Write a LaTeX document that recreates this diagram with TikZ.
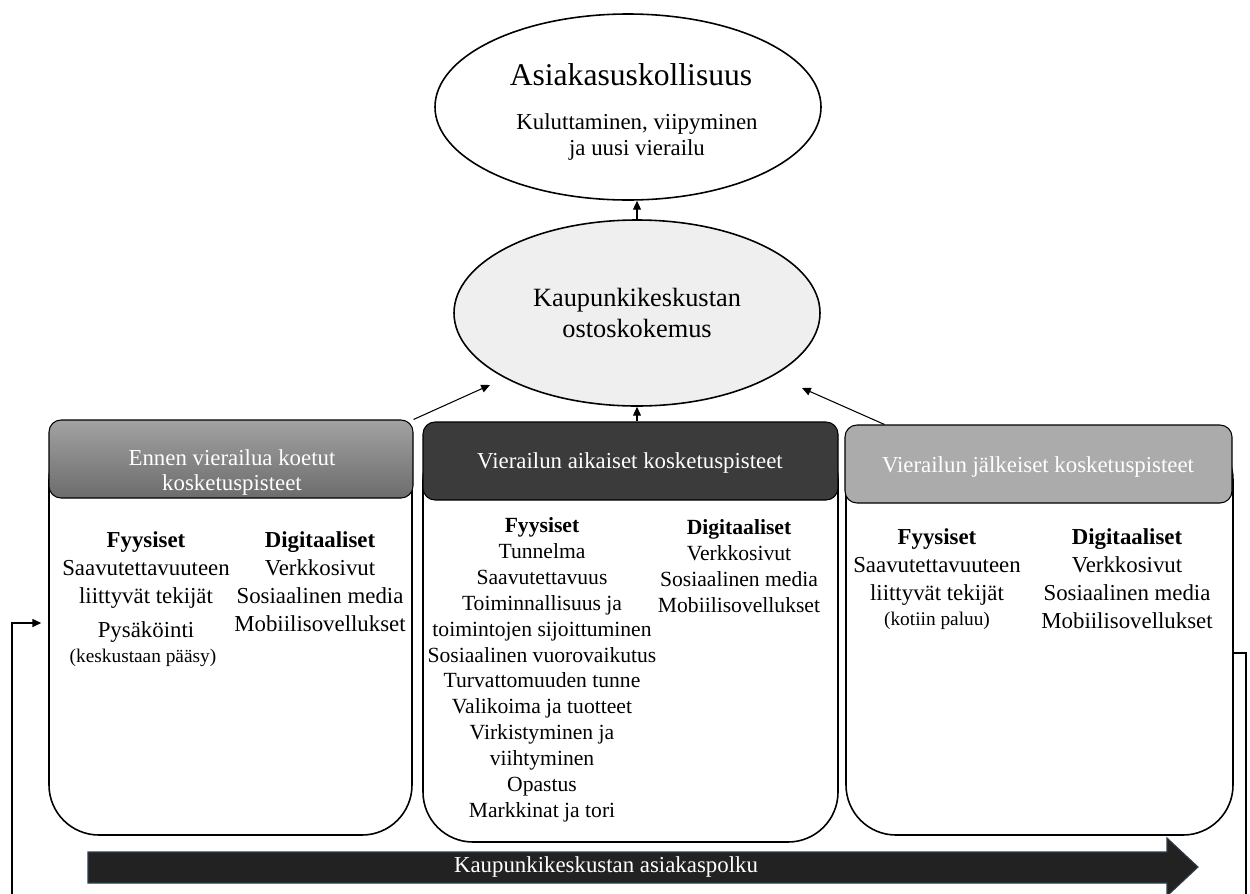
\documentclass[tikz,border=0pt]{standalone}
\usepackage{fontspec}
\setmainfont{Liberation Serif}
\usetikzlibrary{shapes.geometric,arrows.meta,calc,fit}
\newlength\pxu \setlength\pxu{0.02cm}
\definecolor{hdrtop}{HTML}{A2A2A2}
\definecolor{hdrbot}{HTML}{6C6C6C}
\definecolor{hdrdark}{HTML}{3B3B3B}
\definecolor{hdrlight}{HTML}{ABABAB}
\definecolor{ellfill}{HTML}{EFEFEF}
\definecolor{journey}{HTML}{222222}
\definecolor{journeyedge}{HTML}{2E3D4C}
\begin{document}
\begin{tikzpicture}[x=0.02cm,y=-0.02cm,
  line/.style={line width=0.8pt},
  arr/.style={line width=0.6pt,-{Triangle[length=5pt,width=4.5pt]}},
  ell/.style={ellipse,draw,line width=0.9pt,inner sep=0pt},
  body/.style={rectangle,draw,line width=0.9pt,fill=white,rounded corners=1cm,inner sep=0pt},
  hdr/.style={rectangle,draw,line width=0.6pt,rounded corners=0.24cm,inner sep=0pt},
  htxt/.style={text=white,font=\fontsize{13}{14.2}\selectfont,align=center,anchor=base,inner sep=0pt},
  tbig/.style={font=\fontsize{13}{15.8}\selectfont,align=center,anchor=base,inner sep=0pt},
  tmid/.style={font=\fontsize{12.3}{14.7}\selectfont,align=center,anchor=base,inner sep=0pt},
  tsmall/.style={font=\fontsize{11}{13}\selectfont,anchor=base,inner sep=0pt}]
\useasboundingbox (0,0) rectangle (1250,893);
\clip (0,0) rectangle (1250,893);

% top ellipse
\node[ell,minimum width=386\pxu,minimum height=186\pxu] (loyal) at (628,107) {};
\node[font=\fontsize{18}{22}\selectfont,anchor=base,inner sep=0pt] (loyalt) at (631,85) {Asiakasuskollisuus};
\node[font=\fontsize{13}{14.7}\selectfont,align=center,anchor=base,inner sep=0pt] (loyals) at (637,155) {Kuluttaminen, viipyminen\\ja uusi vierailu};

% middle ellipse
\node[ell,fill=ellfill,minimum width=366\pxu,minimum height=186\pxu,
      font=\fontsize{15}{17.5}\selectfont,align=center] (mid) at (637,313) {Kaupunkikeskustan\\ostoskokemus};

% bodies
\node[body,fit={(49,430) (412,835)}] (b1) {};
\node[body,fit={(423,430) (838,842)}] (b2) {};
\node[body,fit={(846,430) (1233,835)}] (b3) {};

% headers
\node[hdr,top color=hdrtop,bottom color=hdrbot,fit={(49,420) (413,498)}] (h1) {};
\node[hdr,fill=hdrdark,fit={(423,422) (838,500)}] (h2) {};
\node[hdr,fill=hdrlight,fit={(845,425) (1232,503)}] (h3) {};
\node[htxt] (h1t) at (232,490) {Ennen vierailua koetut\\kosketuspisteet};
\node[htxt] (h2t) at (630,468) {Vierailun aikaiset kosketuspisteet};
\node[htxt] (h3t) at (1038,472) {Vierailun jälkeiset kosketuspisteet};

% left box text
\node[tbig] (b1f) at (146,637) {\textbf{Fyysiset}\\Saavutettavuuteen\\liittyvät tekijät\\[3.4pt]Pysäköinti};
\node[tsmall] (b1p) at (143,662) {(keskustaan pääsy)};
\node[tbig] (b1d) at (320,631) {\textbf{Digitaaliset}\\Verkkosivut\\Sosiaalinen media\\Mobiilisovellukset};

% middle box text
\node[tmid] (b2f) at (542,817) {\textbf{Fyysiset}\\Tunnelma\\Saavutettavuus\\Toiminnallisuus ja\\toimintojen sijoittuminen\\Sosiaalinen vuorovaikutus\\Turvattomuuden tunne\\Valikoima ja tuotteet\\Virkistyminen ja\\viihtyminen\\Opastus\\Markkinat ja tori};
\node[tmid] (b2d) at (739,612) {\textbf{Digitaaliset}\\Verkkosivut\\Sosiaalinen media\\Mobiilisovellukset};

% right box text
\node[tbig] (b3f) at (937,600) {\textbf{Fyysiset}\\Saavutettavuuteen\\liittyvät tekijät};
\node[tsmall] (b3p) at (937,625) {(kotiin paluu)};
\node[tbig] (b3d) at (1127,628) {\textbf{Digitaaliset}\\Verkkosivut\\Sosiaalinen media\\Mobiilisovellukset};

% connectors
\coordinate (c1) at (490,385);
\coordinate (c2) at (802,388);
\draw[arr] (mid.north) -- (mid.north |- loyal.south);
\draw[arr] (h2.north -| mid.south) -- (mid.south);
\draw[arr] (h1.north east) -- (c1);
\draw[arr] ($(h3.north west)+(40,0)$) -- (c2);

% feedback loop
\coordinate (fr) at (1246,653);
\coordinate (fl) at (12,623);
\draw[arr,line width=0.8pt,shorten >=7\pxu] (b3.east |- fr) -- (fr) -- ++(0,260) -| (fl) -- (b1.west |- fl);

% journey arrow
\fill[journey,draw=journeyedge,line width=0.6pt] (88,852) -- (1167,852) -- (1167,838) -- (1198,867) -- (1167,896) -- (1167,883) -- (88,883) -- cycle;
\node[text=white,font=\fontsize{13}{15}\selectfont,anchor=base,inner sep=0pt] (jt) at (606,872) {Kaupunkikeskustan asiakaspolku};
\end{tikzpicture}
\end{document}
